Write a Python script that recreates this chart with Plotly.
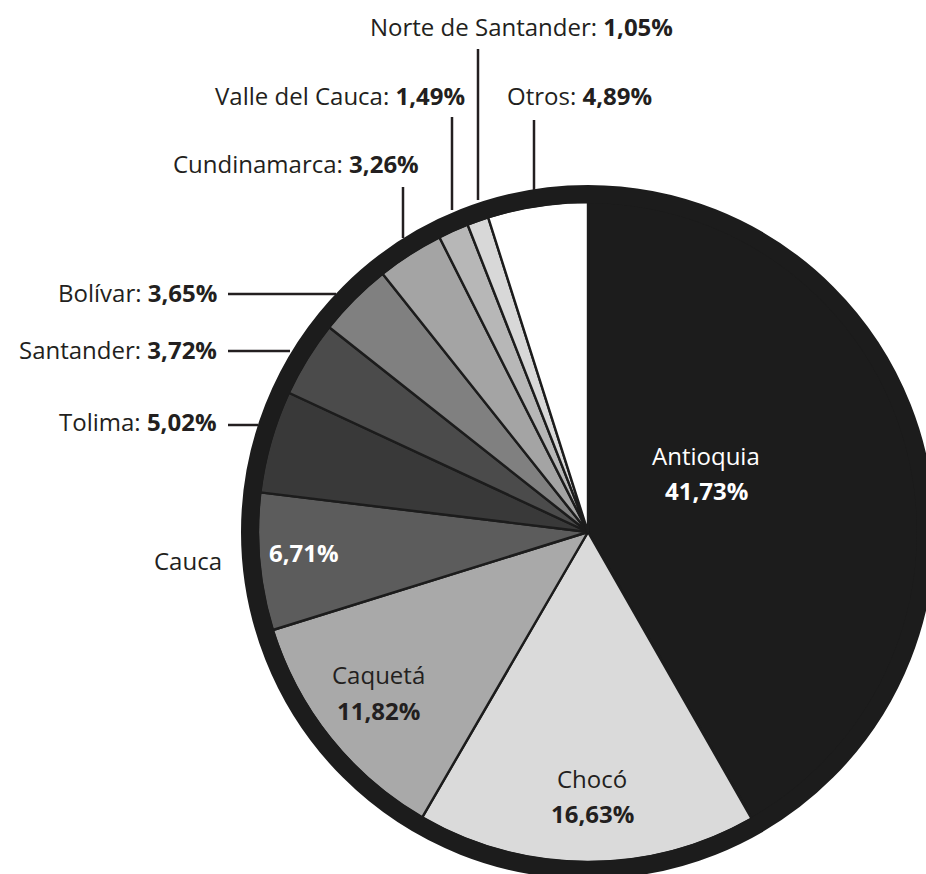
import plotly.graph_objects as go

# ---- data ----
departments = ["Antioquia", "Chocó", "Caquetá", "Cauca", "Tolima", "Santander",
               "Bolívar", "Cundinamarca", "Valle del Cauca", "Norte de Santander", "Otros"]
shares = [41.73, 16.63, 11.82, 6.71, 5.02, 3.72, 3.65, 3.26, 1.49, 1.05, 4.89]
share_labels = ["41,73%", "16,63%", "11,82%", "6,71%", "5,02%", "3,72%",
                "3,65%", "3,26%", "1,49%", "1,05%", "4,89%"]
slice_colors = ["#1c1c1c", "#dadada", "#a9a9a9", "#5c5c5c", "#393939", "#4b4b4b",
                "#808080", "#a4a4a4", "#b7b7b7", "#d8d8d8", "#ffffff"]

# ---- layout geometry (pixels) ----
W, H = 926, 874
CX, CY = 588, 532          # pie centre
R_IN = 330                 # pie radius (slices)
RING = 18                  # thick outer border width

FONT = "Open Sans"
FS = 24
TXT = "#231f20"


def px(x):
    return x / W


def py(y):
    return 1 - y / H


fig = go.Figure()
fig.add_trace(go.Pie(
    labels=departments, values=shares, sort=False, direction="clockwise", rotation=0,
    marker=dict(colors=slice_colors, line=dict(color="#1c1c1c", width=2.4)),
    textinfo="none", hoverinfo="label+percent", showlegend=False,
    domain=dict(x=[px(CX - R_IN), px(CX + R_IN)], y=[py(CY + R_IN), py(CY - R_IN)]),
))

shapes = []
# thick outer border of the pie (clipped by the figure edge like the original)
rr = R_IN + RING / 2 - 1
shapes.append(dict(type="circle", xref="paper", yref="paper",
                   x0=px(CX - rr), x1=px(CX + rr), y0=py(CY + rr), y1=py(CY - rr),
                   line=dict(color="#1c1c1c", width=RING), layer="above"))


def vline(x, y0, y1):
    shapes.append(dict(type="line", xref="paper", yref="paper", x0=px(x), x1=px(x),
                       y0=py(y0), y1=py(y1), line=dict(color=TXT, width=2.5)))


def hline(y, x0, x1):
    shapes.append(dict(type="line", xref="paper", yref="paper", x0=px(x0), x1=px(x1),
                       y0=py(y), y1=py(y), line=dict(color=TXT, width=2.5)))


vline(478, 49, 200)   # Norte de Santander
vline(452, 117, 210)  # Valle del Cauca
vline(534, 120, 190)  # Otros
vline(403, 187, 238)  # Cundinamarca
hline(294, 228, 336)  # Bolívar
hline(351, 228, 290)  # Santander
hline(425, 228, 258)  # Tolima

ann = []


def label(text, x, y, xanchor="left", color=TXT, size=FS):
    ann.append(dict(text=text, x=px(x), y=py(y), xref="paper", yref="paper",
                    xanchor=xanchor, yanchor="middle", showarrow=False,
                    font=dict(family=FONT, size=size, color=color)))


d = dict(zip(departments, share_labels))
# outside labels
label(f"Norte de Santander: <b>{d['Norte de Santander']}</b>", 368, 27)
label(f"Valle del Cauca: <b>{d['Valle del Cauca']}</b>", 467, 95, xanchor="right")
label(f"Otros: <b>{d['Otros']}</b>", 505, 95)
label(f"Cundinamarca: <b>{d['Cundinamarca']}</b>", 421, 163, xanchor="right")
label(f"Bolívar: <b>{d['Bolívar']}</b>", 219, 292, xanchor="right")
label(f"Santander: <b>{d['Santander']}</b>", 219, 350, xanchor="right")
label(f"Tolima: <b>{d['Tolima']}</b>", 219, 421, xanchor="right")
label("Cauca", 224, 560, xanchor="right")
# inside labels
label(f"<b>{d['Cauca']}</b>", 304, 552, xanchor="center", color="#ffffff")
label("Antioquia", 706, 455, xanchor="center", color="#ffffff")
label(f"<b>{d['Antioquia']}</b>", 706, 490, xanchor="center", color="#ffffff")
label("Chocó", 592, 778, xanchor="center")
label(f"<b>{d['Chocó']}</b>", 592, 813, xanchor="center")
label("Caquetá", 378, 674, xanchor="center")
label(f"<b>{d['Caquetá']}</b>", 378, 710, xanchor="center")

fig.update_layout(
    width=W, height=H, margin=dict(l=0, r=0, t=0, b=0),
    paper_bgcolor="#ffffff", plot_bgcolor="#ffffff",
    shapes=shapes, annotations=ann, showlegend=False,
)

# remove the browser's default page margin so the figure sits at the window origin
fig.write_html("out.html", config={"displayModeBar": False},
               post_script="document.body.style.margin='0';document.body.style.overflow='hidden';")
